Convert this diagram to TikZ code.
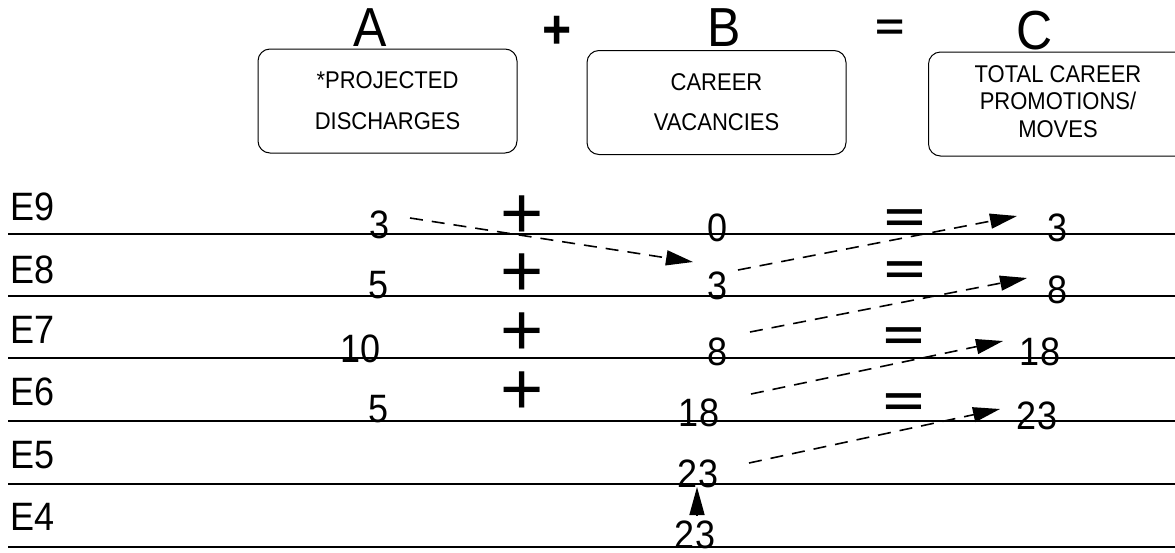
\documentclass[tikz,border=0pt]{standalone}
\usepackage{fontspec}
\setmainfont{Liberation Sans}
\usetikzlibrary{arrows.meta}
\newcommand\vst[1]{\scalebox{1}[1.1]{#1}}
\begin{document}
\begin{tikzpicture}[x=1pt,y=-1pt,
  num/.style={inner sep=0pt, font=\fontsize{36}{36}\selectfont},
  rowlbl/.style={num, anchor=west},
  big/.style={inner sep=0pt, font=\fontsize{50}{50}\selectfont},
  plusop/.style={inner sep=0pt, font=\fontsize{74}{74}\selectfont},
  eqop/.style={inner sep=0pt, font=\fontsize{70}{70}\selectfont\bfseries},
  topop/.style={inner sep=0pt, font=\fontsize{50}{50}\selectfont\bfseries},
  hbox/.style={draw, line width=1pt, rounded corners=12pt, minimum width=259pt,
    minimum height=104pt, inner sep=0pt, align=center},
  rule/.style={line width=1.4pt},
  darr/.style={line width=1.6pt, dash pattern=on 13pt off 9pt,
    -{Triangle[length=27pt,width=15pt]}},
  uparr/.style={line width=1.6pt, -{Triangle[length=28pt,width=15pt]}}
]
\useasboundingbox (0,0) rectangle (1175,552);

% header letters and operators
\node[big] (A) at (370,28) {\vst{A}};
\node[topop] (tplus) at (557,32) {\vst{+}};
\node[big] (B) at (724,28) {\vst{B}};
\node[topop] (teq) at (890,30) {\scalebox{1}[0.75]{=}};
\node[big] (C) at (1035,31) {\vst{C}};

% header boxes
\node[hbox, font=\fontsize{22}{37}\selectfont] (boxA) at (387.5,101)
  {\vst{\begin{tabular}{@{}c@{}}*PROJECTED\\DISCHARGES\end{tabular}}};
\node[hbox, font=\fontsize{22}{37}\selectfont] (boxB) at (716.5,102.5)
  {\vst{\begin{tabular}{@{}c@{}}CAREER\\VACANCIES\end{tabular}}};
\node[hbox, font=\fontsize{22}{25}\selectfont] (boxC) at (1058,104)
  {\vst{\begin{tabular}{@{}c@{}}TOTAL CAREER\\PROMOTIONS/\\MOVES\end{tabular}}};

% horizontal rules
\foreach \yy in {234,296,358,421,484,547}
  \draw[rule] (8,\yy) -- (1175,\yy);

% row labels
\node[rowlbl] (E9) at (10,207) {\vst{E9}};
\node[rowlbl] (E8) at (10,270) {\vst{E8}};
\node[rowlbl] (E7) at (10,330) {\vst{E7}};
\node[rowlbl] (E6) at (10,392) {\vst{E6}};
\node[rowlbl] (E5) at (10,455) {\vst{E5}};
\node[rowlbl] (E4) at (10,517) {\vst{E4}};

% column A
\node[num] (a9) at (380,225) {\vst{3}};
\node[num] (a8) at (379,285) {\vst{5}};
\node[num] (a7) at (361,349) {\vst{10}};
\node[num] (a6) at (379,409) {\vst{5}};

% plus signs
\node[plusop] (p9) at (522,217) {+};
\node[plusop] (p8) at (522,275) {+};
\node[plusop] (p7) at (522,334) {+};
\node[plusop] (p6) at (522,393) {+};

% column B
\node[num] (b9) at (718,228) {\vst{0}};
\node[num] (b8) at (718,286) {\vst{3}};
\node[num] (b7) at (718,352) {\vst{8}};
\node[num] (b6) at (699,413) {\vst{18}};
\node[num] (b5) at (698,474) {\vst{23}};
\node[num] (b4) at (695,535) {\vst{23}};

% equals signs
\node[eqop] (q9) at (905,221) {\scalebox{1}[0.6]{=}};
\node[eqop] (q8) at (905,273) {\scalebox{1}[0.6]{=}};
\node[eqop] (q7) at (904,339) {\scalebox{1}[0.6]{=}};
\node[eqop] (q6) at (904,405) {\scalebox{1}[0.6]{=}};

% column C
\node[num] (c9) at (1057,228) {\vst{3}};
\node[num] (c8) at (1057,290) {\vst{8}};
\node[num] (c7) at (1040,352) {\vst{18}};
\node[num] (c6) at (1037,416) {\vst{23}};

% connectors
\draw[darr] ([shift={(30,-7)}]a9.center) -- ([shift={(-25,-24)}]b8.center);
\draw[darr] ([shift={(20,-16)}]b8.center) -- ([shift={(-40,-12)}]c9.center);
\draw[darr] ([shift={(32,-20)}]b7.center) -- ([shift={(-30,-12)}]c8.center);
\draw[darr] ([shift={(52,-19)}]b6.center) -- ([shift={(-37,-11)}]c7.center);
\draw[darr] ([shift={(51,-11)}]b5.center) -- ([shift={(-37,-7)}]c6.center);
\draw[uparr] ([shift={(2,-20)}]b4.center) -- ([shift={(-1,13)}]b5.center);
\end{tikzpicture}
\end{document}
